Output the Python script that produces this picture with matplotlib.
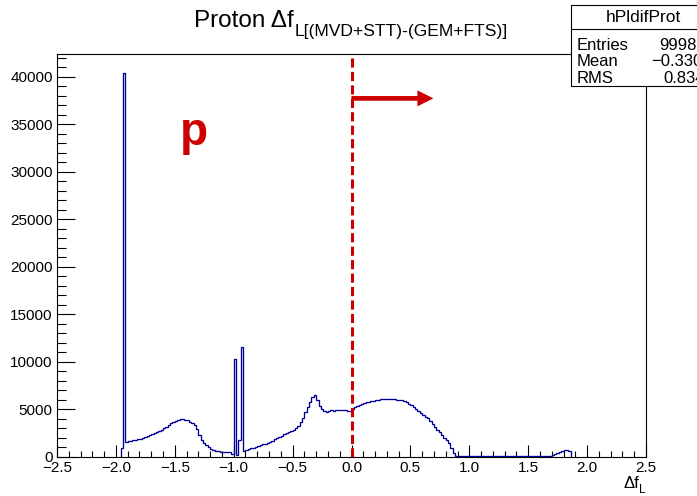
import numpy as np
import matplotlib

matplotlib.use("Agg")
import matplotlib.pyplot as plt
from matplotlib.lines import Line2D
from matplotlib.patches import Rectangle
from matplotlib.ticker import MultipleLocator

plt.rcParams["font.family"] = ["Liberation Sans", "DejaVu Sans"]

# histogram: 0.02 wide bins starting at -1.96
BIN_LO = -1.96
BIN_WIDTH = 0.02
COUNTS = [
	900, 40400, 1600, 1650, 1720, 1760, 1820, 1880, 1920, 2000,
	2070, 2180, 2290, 2380, 2480, 2580, 2700, 2840, 3000, 3180,
	3380, 3550, 3680, 3800, 3900, 3980, 4000, 3940, 3850, 3720,
	3560, 3370, 2950, 2350, 1790, 1480, 1260, 1030, 840, 740,
	660, 600, 540, 530, 540, 560, 540, 300, 10300, 250,
	1800, 11600, 650, 720, 820, 900, 980, 1060, 1140, 1220,
	1320, 1420, 1510, 1610, 1720, 1850, 1980, 2100, 2260, 2380,
	2500, 2600, 2720, 2840, 3050, 3300, 3700, 4100, 4700, 5300,
	5800, 6300, 6550, 6000, 5400, 5100, 4850, 4780, 4850, 4900,
	4880, 4950, 4970, 4920, 4950, 4900, 4850, 4880, 5000, 5250,
	5400, 5500, 5620, 5700, 5750, 5820, 5880, 5920, 5980, 6020,
	6060, 6070, 6100, 6080, 6120, 6070, 6090, 6050, 6000, 5950,
	5860, 5750, 5600, 5430, 5230, 5020, 4820, 4630, 4430, 4250,
	4080, 3800, 3500, 3180, 2880, 2580, 2300, 2050, 1790, 1450,
	950, 450, 120, 90, 80, 90, 100, 90, 80, 90,
	90, 80, 90, 100, 90, 80, 90, 90, 80, 90,
	90, 80, 90, 90, 80, 90, 100, 90, 80, 90,
	90, 80, 90, 90, 100, 90, 80, 90, 90, 100,
	100, 100, 110, 160, 320, 460, 570, 650, 710, 740,
	620,
]

STATS_NAME = "hPldifProt"
STATS_LABELS = ["Entries", "Mean", "RMS"]
STATS_VALUES = ["999850", "\u22120.3306", "0.8346"]

CUT_X = 0.0
ARROW_END = 0.695
ARROW_Y = 37750

RED = "#cc0000"
BLUE = "#000099"

W, H = 697, 496
fig = plt.figure(figsize=(W / 100, H / 100), dpi=100)
ax = fig.add_axes([57 / W, 39 / H, 589 / W, 403 / H])

counts = np.array(COUNTS, dtype=float)
edges = BIN_LO + BIN_WIDTH * np.arange(len(counts) + 1)
ax.stairs(counts, edges, color=BLUE, lw=0.95, baseline=0, zorder=2)

ax.axvline(CUT_X, color=RED, lw=2.2, dashes=(3.0, 1.4), zorder=3)
ax.annotate(
	"", xy=(ARROW_END, ARROW_Y), xytext=(CUT_X, ARROW_Y),
	arrowprops=dict(
		arrowstyle="simple,head_length=1.15,head_width=1.15,tail_width=0.34",
		mutation_scale=10, color=RED, lw=0, shrinkA=0, shrinkB=0,
	),
	zorder=3,
)
ax.text(-1.458, 32840, "p", color=RED, fontsize=33, fontweight="bold",
	ha="left", va="baseline")

ax.set_xlim(-2.5, 2.5)
ax.set_ylim(0, 42420)
ax.xaxis.set_major_locator(MultipleLocator(0.5))
ax.xaxis.set_minor_locator(MultipleLocator(0.1))
ax.yaxis.set_major_locator(MultipleLocator(5000))
ax.yaxis.set_minor_locator(MultipleLocator(1000))
ax.tick_params(axis="both", which="both", direction="in", labelsize=11,
	top=False, right=False, width=0.8)
ax.tick_params(axis="x", which="major", length=8.6, pad=3)
ax.tick_params(axis="x", which="minor", length=4.3)
ax.tick_params(axis="y", which="major", length=13, pad=3)
ax.tick_params(axis="y", which="minor", length=6.5)
for sp in ax.spines.values():
	sp.set_linewidth(0.8)


def sub_text(x_px, y_px, main, sub, size, align, sub_drop):
	t1 = fig.text(0, 0, main, fontsize=size, va="baseline")
	t2 = fig.text(0, 0, sub, fontsize=size * 0.72, va="baseline")
	fig.canvas.draw()
	r = fig.canvas.get_renderer()
	w1 = t1.get_window_extent(r).width
	w2 = t2.get_window_extent(r).width
	if align == "center":
		left = x_px - (w1 + w2) / 2
	else:
		left = x_px - (w1 + w2)
	t1.set_position((left / W, 1 - y_px / H))
	t2.set_position(((left + w1) / W, 1 - (y_px + sub_drop) / H))


sub_text(351, 27.3, "Proton \u0394f", "L[(MVD+STT)-(GEM+FTS)]", 17.5, "center", 9)
sub_text(646, 488, "\u0394f", "L", 12, "right", 5)

# stats box, partly outside the canvas like in the original
box = Rectangle((571 / W, 1 - 86 / H), 145 / W, 81 / H, transform=fig.transFigure,
	facecolor="white", edgecolor="black", lw=0.8, zorder=10)
fig.add_artist(box)
fig.add_artist(Line2D([571 / W, 716 / W], [1 - 29 / H] * 2, transform=fig.transFigure,
	color="black", lw=0.8, zorder=11))
fig.text(643.7 / W, 1 - 21.7 / H, STATS_NAME, fontsize=12.5, ha="center",
	va="baseline", zorder=12)
rows_y = [50, 66.5, 83]
values_x = [659, 651, 663]
for label, value, y, vx in zip(STATS_LABELS, STATS_VALUES, rows_y, values_x):
	fig.text(577 / W, 1 - y / H, label, fontsize=12, va="baseline", zorder=12)
	fig.text(vx / W, 1 - y / H, value, fontsize=12, va="baseline", zorder=12)

fig.savefig("out.png", dpi=100)
